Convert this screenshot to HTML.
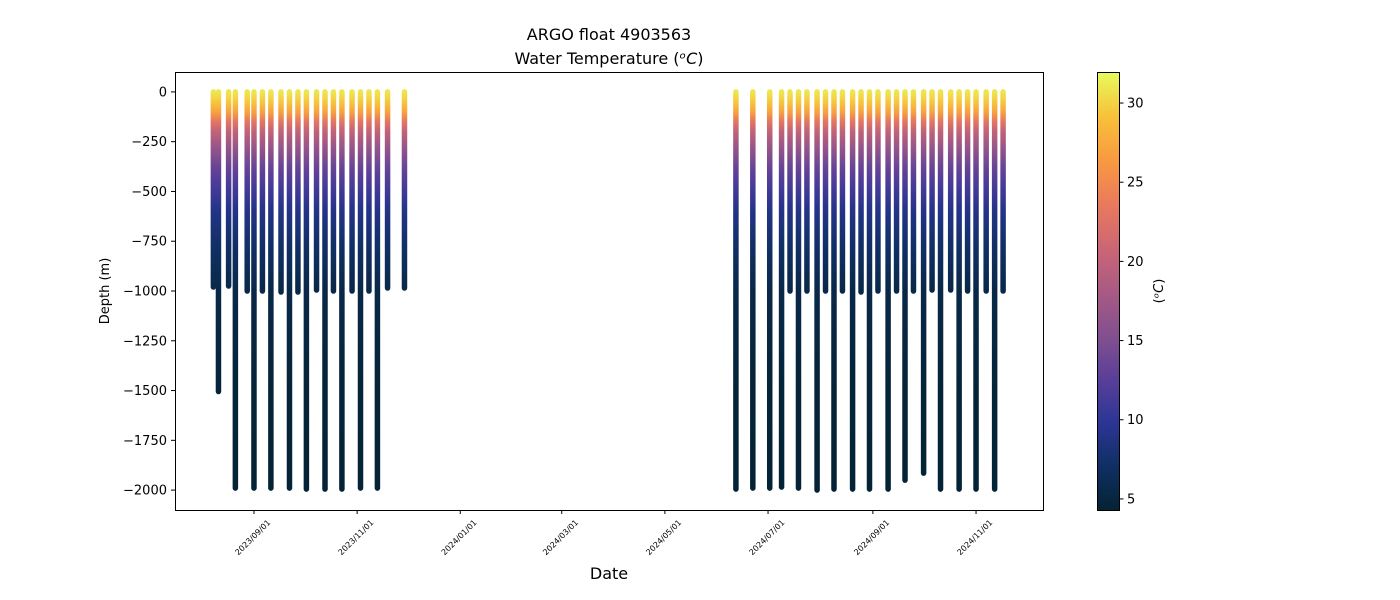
<!DOCTYPE html>
<html><head><meta charset="utf-8"><style>
body{margin:0;background:#fff;}
svg{display:block;font-family:"DejaVu Sans","Liberation Sans",sans-serif;}
</style></head><body>
<svg id="chart" width="1400" height="600" xmlns="http://www.w3.org/2000/svg">
<defs>
<linearGradient id="cmapV" x1="0" y1="1" x2="0" y2="0">
<stop offset="0" stop-color="#042333"/><stop offset="0.1" stop-color="#0f2f63"/><stop offset="0.2" stop-color="#2c3595"/><stop offset="0.3" stop-color="#5a3f99"/><stop offset="0.4" stop-color="#83508f"/><stop offset="0.5" stop-color="#a95a84"/><stop offset="0.6" stop-color="#cc6675"/><stop offset="0.7" stop-color="#ea7a5c"/><stop offset="0.8" stop-color="#f89a40"/><stop offset="0.9" stop-color="#f8c13a"/><stop offset="1" stop-color="#e8fa5b"/>
</linearGradient>
</defs>
<text x="609" y="40" text-anchor="middle" font-size="16">ARGO float 4903563</text>
<text x="609" y="64" text-anchor="middle" font-size="16">Water Temperature (<tspan font-style="italic">ᵒC</tspan>)</text>
<g id="plot"></g>
<rect x="175.5" y="72.5" width="868" height="438" fill="none" stroke="#000" stroke-width="1"/>
<text transform="translate(109,291) rotate(-90)" text-anchor="middle" font-size="13">Depth (m)</text>
<text x="609" y="579" text-anchor="middle" font-size="16">Date</text>
<g id="cbar"></g>
<text transform="translate(1163,291) rotate(-90)" text-anchor="middle" font-size="13">(<tspan font-style="italic">ᵒC</tspan>)</text>
</svg>
<script>
const profileDates=["2023-08-08","2023-08-11","2023-08-17","2023-08-21","2023-08-28","2023-09-01","2023-09-06","2023-09-11","2023-09-17","2023-09-22","2023-09-27","2023-10-02","2023-10-08","2023-10-13","2023-10-18","2023-10-23","2023-10-29","2023-11-03","2023-11-08","2023-11-13","2023-11-19","2023-11-29",
"2024-06-12","2024-06-22","2024-07-02","2024-07-09","2024-07-14","2024-07-19","2024-07-24","2024-07-30","2024-08-04","2024-08-09","2024-08-14","2024-08-20","2024-08-25","2024-08-30","2024-09-04","2024-09-10","2024-09-15","2024-09-20","2024-09-25","2024-10-01","2024-10-06","2024-10-11","2024-10-17","2024-10-22","2024-10-27","2024-11-01","2024-11-07","2024-11-12","2024-11-17"];
const profileMaxDepth=[980,1505,975,1990,1000,1990,1000,1990,1005,1990,1005,1995,995,1995,1000,1995,1000,1990,1000,1990,985,985,
1995,1990,1990,1985,1000,1990,1000,2000,1000,1995,1000,1995,1005,1995,1000,1995,1000,1950,1000,1915,995,1995,995,1995,1000,1995,1000,1995,1000];
const depthLevels=[0,50,100,150,200,300,400,500,600,800,1000,1500,2000];
const tempLevels=[31,29.5,27,23,20,16,13,11,9,7,5.5,4.6,4.4];
const yTicks=[0,-250,-500,-750,-1000,-1250,-1500,-1750,-2000];
const xTickLabels=["2023/09/01","2023/11/01","2024/01/01","2024/03/01","2024/05/01","2024/07/01","2024/09/01","2024/11/01"];
const cbarTicks=[5,10,15,20,25,30];

const NS="http://www.w3.org/2000/svg";
const day0=Date.UTC(2023,8,1);
const toDay=s=>{const p=s.split(/[-\/]/).map(Number);return (Date.UTC(p[0],p[1]-1,p[2])-day0)/86400000;};
const X0=175,X1=1043,Y0=72,Y1=510;
const dMin=-46.7,dMax=466.6;
const xS=d=>X0+(d-dMin)/(dMax-dMin)*(X1-X0);
const yMin=-2100,yMax=100;
const yS=v=>Y1-(v-yMin)/(yMax-yMin)*(Y1-Y0);
const tMin=4.3,tMax=31.96;
const cS=t=>Y1-(t-tMin)/(tMax-tMin)*(Y1-Y0);
function mk(tag,attrs,parent){const e=document.createElementNS(NS,tag);for(const k in attrs)e.setAttribute(k,attrs[k]);parent.appendChild(e);return e;}
const stops=[["#042333",0],["#0f2f63",.1],["#2c3595",.2],["#5a3f99",.3],["#83508f",.4],["#a95a84",.5],["#cc6675",.6],["#ea7a5c",.7],["#f89a40",.8],["#f8c13a",.9],["#e8fa5b",1]];
const plot=document.getElementById('plot');
const defs=document.querySelector('defs');
const g=mk('linearGradient',{id:'depthGrad',gradientUnits:'userSpaceOnUse',x1:0,x2:0,y1:yS(0),y2:yS(-2000)},defs);
function colorAt(t){const f=(t-tMin)/(tMax-tMin);for(let i=1;i<stops.length;i++){if(f<=stops[i][1]){const a=stops[i-1],b=stops[i];const u=(f-a[1])/(b[1]-a[1]);const ca=a[0].match(/\w\w/g).map(h=>parseInt(h,16)),cb=b[0].match(/\w\w/g).map(h=>parseInt(h,16));return 'rgb('+ca.map((v,j)=>Math.round(v+(cb[j]-v)*u)).join(',')+')';}}return stops[stops.length-1][0];}
depthLevels.forEach((d,i)=>{mk('stop',{offset:d/2000,'stop-color':colorAt(tempLevels[i])},g);});
profileDates.forEach((s,i)=>{
  const x=xS(toDay(s));
  const l=mk('line',{x1:x,x2:x,y1:yS(0),y2:yS(-profileMaxDepth[i]),stroke:'url(#depthGrad)','stroke-width':5.5,'stroke-linecap':'round'},plot);
  
  
});
const ax=mk('g',{},document.getElementById('chart'));


yTicks.forEach(v=>{const y=yS(v);mk('line',{x1:171,x2:175,y1:y,y2:y,stroke:'#000'},ax);
 const t=mk('text',{x:167,y:y+4.5,'text-anchor':'end','font-size':13},ax);t.textContent=(v<0?'\u2212'+(-v):v);
 
 });
xTickLabels.forEach(s=>{const x=xS(toDay(s));mk('line',{x1:x,x2:x,y1:510,y2:514,stroke:'#000'},ax);
 const t=mk('text',{transform:`translate(${x+17},${523}) rotate(-45)`,'text-anchor':'end','font-size':8},ax);t.textContent=s;
 
 });
const cb=document.getElementById('cbar');
const r=mk('rect',{x:1097.5,y:72.5,width:22,height:438,fill:'url(#cmapV)',stroke:'#000','stroke-width':1},cb);


cbarTicks.forEach(v=>{const y=cS(v);mk('line',{x1:1119.5,x2:1123.5,y1:y,y2:y,stroke:'#000'},cb);
 const t=mk('text',{x:1127,y:y+4.5,'font-size':13},cb);t.textContent=v;
 
 });
</script>
</body></html>
